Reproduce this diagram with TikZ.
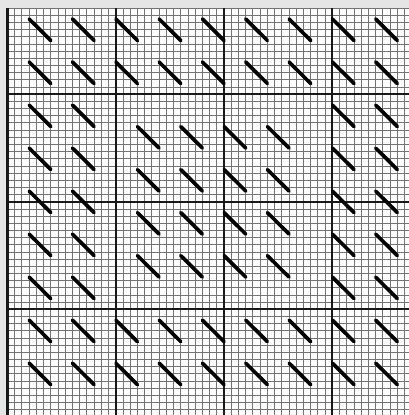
\documentclass[tikz,border=0pt]{standalone}
\usepackage{tikz}

\begin{document}
\begin{tikzpicture}[
  x=0.1805cm, y=-0.17925cm,
  fine/.style={draw=black!55, line width=0.7pt},
  major/.style={draw=black!90, line width=1.5pt},
  stitch/.style={draw=black, line width=2.6pt, line cap=round}
]
  \useasboundingbox[fill=black!10] (-1.039,-1.152) rectangle (55.61,56.73);
  \fill[white] (0,0) rectangle (55.61,56.73);

  \begin{scope}
    \clip (-1.039,-1.152) rectangle (55.61,56.73);
    \foreach \i in {0,...,55} \draw[fine] (\i,0) -- (\i,56.73);
    \foreach \j in {0,...,56} \draw[fine] (0,\j) -- (55.61,\j);
    \foreach \i in {0,15,30,45} \draw[major] (\i,0) -- (\i,56.73);
    \foreach \j in {12,27,42} \draw[major] (0,\j) -- (55.61,\j);
  \end{scope}

  \foreach \v in {1.5,7.5,43.5,49.5}
    \foreach \u in {3,9,...,51}
      \draw[stitch] (\u,\v) -- ++(3,3);
  \foreach \v in {13.5,19.5,...,37.5}
    \foreach \u in {3,9,45,51}
      \draw[stitch] (\u,\v) -- ++(3,3);
  \foreach \v in {16.5,22.5,...,34.5}
    \foreach \u in {18,24,...,36}
      \draw[stitch] (\u,\v) -- ++(3,3);
\end{tikzpicture}
\end{document}
